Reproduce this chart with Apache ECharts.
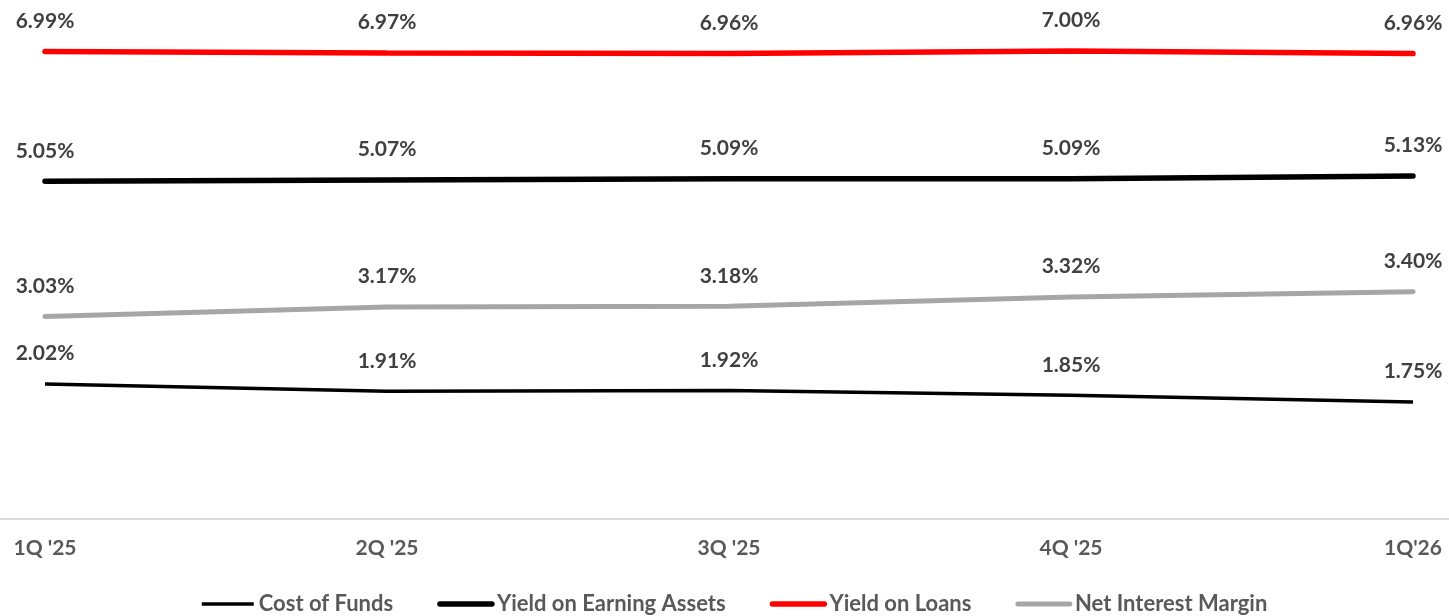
<!DOCTYPE html>
<html>
<head>
<meta charset="utf-8">
<script src="https://cdn.jsdelivr.net/npm/echarts@6/dist/echarts.min.js"></script>
<style>
html,body{margin:0;padding:0;background:#fff;}
#chart{width:1449px;height:616px;}
</style>
</head>
<body>
<div id="chart"></div>
<script>
const categories = ["1Q '25", "2Q '25", "3Q '25", "4Q '25", "1Q'26"];
const costOfFunds = [2.02, 1.91, 1.92, 1.85, 1.75];
const yieldEarningAssets = [5.05, 5.07, 5.09, 5.09, 5.13];
const yieldLoans = [6.99, 6.97, 6.96, 7.00, 6.96];
const netInterestMargin = [3.03, 3.17, 3.18, 3.32, 3.40];
const seriesNames = ["Cost of Funds", "Yield on Earning Assets", "Yield on Loans", "Net Interest Margin"];

const FONT = 'Lato, "Open Sans", sans-serif';
const labelCfg = {
  show: true,
  position: 'top',
  distance: 20,
  formatter: p => p.value.toFixed(2) + '%',
  color: '#404040',
  fontFamily: FONT,
  fontWeight: 'bold',
  fontSize: 21
};

const styles = [
  { color: '#000000', width: 3.5, cap: 'butt' },
  { color: '#000000', width: 5.5, cap: 'round' },
  { color: '#ff0000', width: 5.5, cap: 'round' },
  { color: '#a6a6a6', width: 5, cap: 'round' }
];
const seriesData = [costOfFunds, yieldEarningAssets, yieldLoans, netInterestMargin];

const chart = echarts.init(document.getElementById('chart'), null, { renderer: 'canvas' });
chart.setOption({
  animation: false,
  backgroundColor: '#ffffff',
  grid: [
    { left: 45, right: 36, top: 17.5, bottom: 97 },
    { left: 0, right: 0, top: 17.5, bottom: 97 }
  ],
  xAxis: [
    {
      type: 'category',
      gridIndex: 0,
      data: categories,
      boundaryGap: false,
      axisLine: { show: false },
      axisTick: { show: false },
      axisLabel: {
        color: '#595959',
        fontFamily: FONT,
        fontWeight: 'bold',
        fontSize: 21,
        margin: 19
      }
    },
    {
      type: 'category',
      gridIndex: 1,
      data: categories,
      axisLine: { show: true, lineStyle: { color: '#d9d9d9', width: 2 } },
      axisTick: { show: false },
      axisLabel: { show: false }
    }
  ],
  yAxis: [
    { type: 'value', gridIndex: 0, min: 0, max: 7.5, show: false, splitLine: { show: false } },
    { type: 'value', gridIndex: 1, min: 0, max: 7.5, show: false, splitLine: { show: false } }
  ],
  legend: {
    left: 200,
    top: 593,
    padding: 0,
    itemWidth: 52,
    itemHeight: 14,
    itemGap: 44,
    data: seriesNames.map((n, i) => ({
      name: n,
      lineStyle: { width: styles[i].width, cap: styles[i].cap, color: styles[i].color }
    })),
    itemStyle: { opacity: 0 },
    textStyle: {
      color: '#595959',
      fontFamily: FONT,
      fontWeight: 'bold',
      fontSize: 22
    }
  },
  series: seriesNames.map((n, i) => ({
    name: n,
    type: 'line',
    data: seriesData[i],
    symbol: 'circle',
    symbolSize: 0,
    showSymbol: true,
    lineStyle: { color: styles[i].color, width: styles[i].width, cap: styles[i].cap },
    itemStyle: { color: styles[i].color },
    label: labelCfg,
    emphasis: { disabled: true },
    z: 3
  }))
});
</script>
</body>
</html>
